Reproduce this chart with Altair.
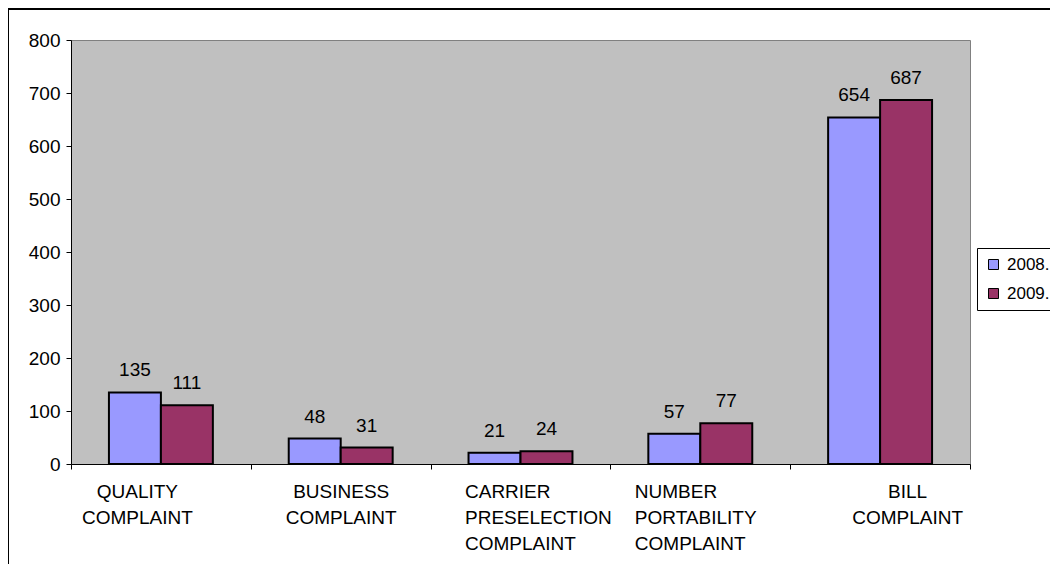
import altair as alt
import pandas as pd

categories = [
    "QUALITY|COMPLAINT",
    "BUSINESS|COMPLAINT",
    "CARRIER|PRESELECTION|COMPLAINT",
    "NUMBER|PORTABILITY|COMPLAINT",
    "BILL|COMPLAINT",
]
years = ["2008.", "2009."]
v2008 = [135, 48, 21, 57, 654]
v2009 = [111, 31, 24, 77, 687]
colors = ["#9999FF", "#993366"]

rows = []
for c, a, b in zip(categories, v2008, v2009):
    rows.append({"cat": c, "year": years[0], "value": a})
    rows.append({"cat": c, "year": years[1], "value": b})
df = pd.DataFrame(rows)

FONT = "Liberation Sans"

x = alt.X(
    "cat:N",
    sort=categories,
    title=None,
    scale=alt.Scale(paddingInner=0, paddingOuter=0),
    axis=alt.Axis(
        labelAngle=0,
        labelExpr="split(datum.label, '|')",
        labelFontSize=19,
        labelFont=FONT,
        labelColor="black",
        labelLineHeight=26,
        labelPadding=13,
        labelBaseline="top",
        labelAlign={
            "condition": [
                {"test": "datum.value == 'CARRIER|PRESELECTION|COMPLAINT'", "value": "left"},
                {"test": "datum.value == 'NUMBER|PORTABILITY|COMPLAINT'", "value": "left"},
            ],
            "value": "center",
        },
        labelOffset={
            "condition": [
                {"test": "datum.value == 'QUALITY|COMPLAINT'", "value": -24},
                {"test": "datum.value == 'BILL|COMPLAINT'", "value": 27},
                {"test": "datum.value == 'CARRIER|PRESELECTION|COMPLAINT'", "value": -56},
                {"test": "datum.value == 'NUMBER|PORTABILITY|COMPLAINT'", "value": -66},
            ],
            "value": 0,
        },
        tickBand="extent",
        tickSize=5,
        tickColor="black",
        domainColor="black",
        labelLimit=0,
    ),
)
y = alt.Y(
    "value:Q",
    title=None,
    scale=alt.Scale(domain=[0, 800], nice=False),
    axis=alt.Axis(
        values=list(range(0, 801, 100)),
        grid=False,
        labelFontSize=19,
        labelFont=FONT,
        labelColor="black",
        tickSize=5,
        tickColor="black",
        domainColor="black",
        labelPadding=6,
    ),
)
xo = alt.XOffset("year:N", sort=years, scale=alt.Scale(paddingInner=0, paddingOuter=0.73))

bars = alt.Chart(df).mark_bar(stroke="black", strokeWidth=2).encode(
    x=x,
    y=y,
    xOffset=xo,
    color=alt.Color(
        "year:N",
        sort=years,
        scale=alt.Scale(domain=years, range=colors),
        legend=alt.Legend(
            title=None,
            orient="none",
            legendX=906,
            legendY=208,
            symbolType="square",
            symbolSize=100,
            symbolStrokeColor="black",
            symbolStrokeWidth=1,
            labelFontSize=17,
            labelFont=FONT,
            labelColor="black",
            labelOffset=5,
            rowPadding=11,
            padding=8,
            strokeColor="black",
            fillColor="white",
            labelLimit=0,
        ),
    ),
)

labels = alt.Chart(df).mark_text(
    baseline="alphabetic", dy=-16, fontSize=19, font=FONT, color="black"
).encode(
    x=alt.X("cat:N", sort=categories),
    y=alt.Y("value:Q"),
    xOffset=alt.XOffset("year:N", sort=years),
    text=alt.Text("value:Q"),
)

frame_df = pd.DataFrame({"k": [0]})
frame = alt.Chart(frame_df).mark_rect(fill=None, stroke="black", strokeWidth=2).encode(
    x=alt.value(-63),
    x2=alt.value(1200),
    y=alt.value(-31),
    y2=alt.value(700),
)

chart = (
    alt.layer(bars, labels, frame)
    .properties(
        width=899,
        height=424,
        autosize=alt.AutoSizeParams(type="none"),
        padding={"left": 63, "top": 32, "right": 80, "bottom": 100},
        background="white",
    )
    .configure_view(fill="#C0C0C0", stroke="#808080", strokeWidth=1)
)

chart.save("out.html", embed_options={"renderer": "svg", "actions": False})
